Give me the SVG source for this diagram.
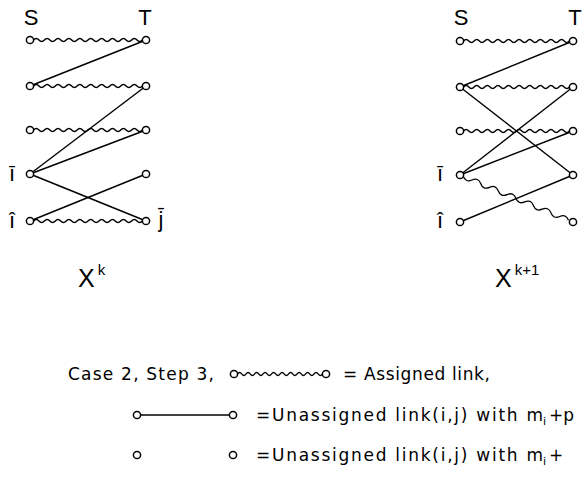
<svg xmlns="http://www.w3.org/2000/svg" xmlns:xlink="http://www.w3.org/1999/xlink" width="588" height="485" viewBox="0 0 588 485">
<style>
.t{font-family:"Liberation Sans",Arial,sans-serif;fill:#000}
.lab{font-size:22px}
.big{font-size:25px}
.sup{font-size:15px}
.leg{font-family:"DejaVu Sans","Liberation Sans",sans-serif;font-size:17px;fill:#000}
.sub{font-family:"DejaVu Sans","Liberation Sans",sans-serif;font-size:11px;fill:#000}
.ln{stroke:#000;stroke-width:1.4;fill:none}
.wv{stroke:#000;stroke-width:1.3;fill:none;vector-effect:non-scaling-stroke}
.nd{fill:#fff;stroke:#000;stroke-width:1.5}
</style>
<defs>
<path id="wave" d="M0,0 q2.5,-3 5,0 t5,0 t5,0 t5,0 t5,0 t5,0 t5,0 t5,0 t5,0 t5,0 t5,0 t5,0 t5,0 t5,0 t5,0 t5,0 t5,0 t5,0 t5,0 t5,0"/>
<path id="wave2" d="M0,0 q4.8,5 9.6,0 t9.6,0 t9.6,0 t9.6,0 t9.6,0 t9.6,0 t9.6,0 t9.6,0 t9.6,0 t9.6,0 t9.6,0 t9.6,0"/>
<circle id="node" r="3.6"/>
</defs>

<g id="connectors">
  <!-- left diagram X^k -->
  <use xlink:href="#wave" class="wv" transform="translate(33.5,40) scale(1.09,1)"/>
  <use xlink:href="#wave" class="wv" transform="translate(33.5,86) scale(1.09,1)"/>
  <use xlink:href="#wave" class="wv" transform="translate(33.5,130) scale(1.09,1)"/>
  <use xlink:href="#wave" class="wv" transform="translate(33.5,221) scale(1.09,1)"/>
  <line class="ln" x1="30" y1="86" x2="146" y2="40"/>
  <line class="ln" x1="30" y1="174" x2="146" y2="86"/>
  <line class="ln" x1="30" y1="174" x2="146" y2="130"/>
  <line class="ln" x1="30" y1="174" x2="146" y2="221"/>
  <line class="ln" x1="30" y1="221" x2="146" y2="174"/>
  <!-- right diagram X^k+1 -->
  <use xlink:href="#wave" class="wv" transform="translate(463.5,41) scale(1.06,1)"/>
  <use xlink:href="#wave" class="wv" transform="translate(463.5,87) scale(1.06,1)"/>
  <use xlink:href="#wave" class="wv" transform="translate(463.5,131) scale(1.06,1)"/>
  <use xlink:href="#wave2" class="wv" transform="translate(460,175) rotate(22.6) translate(3.5,0) scale(0.99,1)"/>
  <line class="ln" x1="460" y1="87" x2="573" y2="41"/>
  <line class="ln" x1="460" y1="87" x2="573" y2="175"/>
  <line class="ln" x1="460" y1="175" x2="573" y2="87"/>
  <line class="ln" x1="460" y1="175" x2="573" y2="131"/>
  <line class="ln" x1="460" y1="222" x2="573" y2="175"/>
  <!-- legend -->
  <use xlink:href="#wave" class="wv" transform="translate(237.5,374) scale(0.85,1)"/>
  <line class="ln" x1="137" y1="415" x2="233" y2="415"/>
</g>

<g id="left-S">
  <use xlink:href="#node" class="nd" x="30" y="40"/>
  <use xlink:href="#node" class="nd" x="30" y="86"/>
  <use xlink:href="#node" class="nd" x="30" y="130"/>
  <use xlink:href="#node" class="nd" x="30" y="174"/>
  <use xlink:href="#node" class="nd" x="30" y="221"/>
</g>
<g id="left-T">
  <use xlink:href="#node" class="nd" x="146" y="40"/>
  <use xlink:href="#node" class="nd" x="146" y="86"/>
  <use xlink:href="#node" class="nd" x="146" y="130"/>
  <use xlink:href="#node" class="nd" x="146" y="174"/>
  <use xlink:href="#node" class="nd" x="146" y="221"/>
</g>
<g id="right-S">
  <use xlink:href="#node" class="nd" x="460" y="41"/>
  <use xlink:href="#node" class="nd" x="460" y="87"/>
  <use xlink:href="#node" class="nd" x="460" y="131"/>
  <use xlink:href="#node" class="nd" x="460" y="175"/>
  <use xlink:href="#node" class="nd" x="460" y="222"/>
</g>
<g id="right-T">
  <use xlink:href="#node" class="nd" x="573" y="41"/>
  <use xlink:href="#node" class="nd" x="573" y="87"/>
  <use xlink:href="#node" class="nd" x="573" y="131"/>
  <use xlink:href="#node" class="nd" x="573" y="175"/>
  <use xlink:href="#node" class="nd" x="573" y="222"/>
</g>

<g id="labels-left">
  <text class="t lab" x="31" y="25" text-anchor="middle">S</text>
  <text class="t lab" x="145" y="25" text-anchor="middle">T</text>
  <text class="t lab" x="12" y="181" text-anchor="middle">ī</text>
  <text class="t lab" x="12" y="228" text-anchor="middle">î</text>
  <text class="t lab" x="161" y="227" text-anchor="middle">j̄</text>
  <text class="t big" x="78" y="287">X<tspan class="sup" dx="3" dy="-12">k</tspan></text>
</g>
<g id="labels-right">
  <text class="t lab" x="461" y="25" text-anchor="middle">S</text>
  <text class="t lab" x="575" y="25" text-anchor="middle">T</text>
  <text class="t lab" x="440" y="181" text-anchor="middle">ī</text>
  <text class="t lab" x="440" y="228" text-anchor="middle">î</text>
  <text class="t big" x="495" y="287">X<tspan class="sup" dx="3" dy="-12">k+1</tspan></text>
</g>

<g id="legend">
  <text class="leg" x="68" y="380" textLength="146" lengthAdjust="spacing">Case 2, Step 3,</text>
  <use xlink:href="#node" class="nd" x="234" y="374"/>
  <use xlink:href="#node" class="nd" x="326" y="374"/>
  <text class="leg" x="343" y="380" textLength="147" lengthAdjust="spacing">= Assigned link,</text>
  <use xlink:href="#node" class="nd" x="137" y="415"/>
  <use xlink:href="#node" class="nd" x="233" y="415"/>
  <text class="leg" x="256" y="421" textLength="287" lengthAdjust="spacing">=Unassigned link(i,j) with m</text>
  <text class="sub" x="543" y="425">i</text>
  <text class="leg" x="549" y="421">+p</text>
  <use xlink:href="#node" class="nd" x="137" y="455"/>
  <use xlink:href="#node" class="nd" x="233" y="455"/>
  <text class="leg" x="256" y="461" textLength="287" lengthAdjust="spacing">=Unassigned link(i,j) with m</text>
  <text class="sub" x="543" y="465">i</text>
  <text class="leg" x="549" y="461">+</text>
</g>
</svg>
